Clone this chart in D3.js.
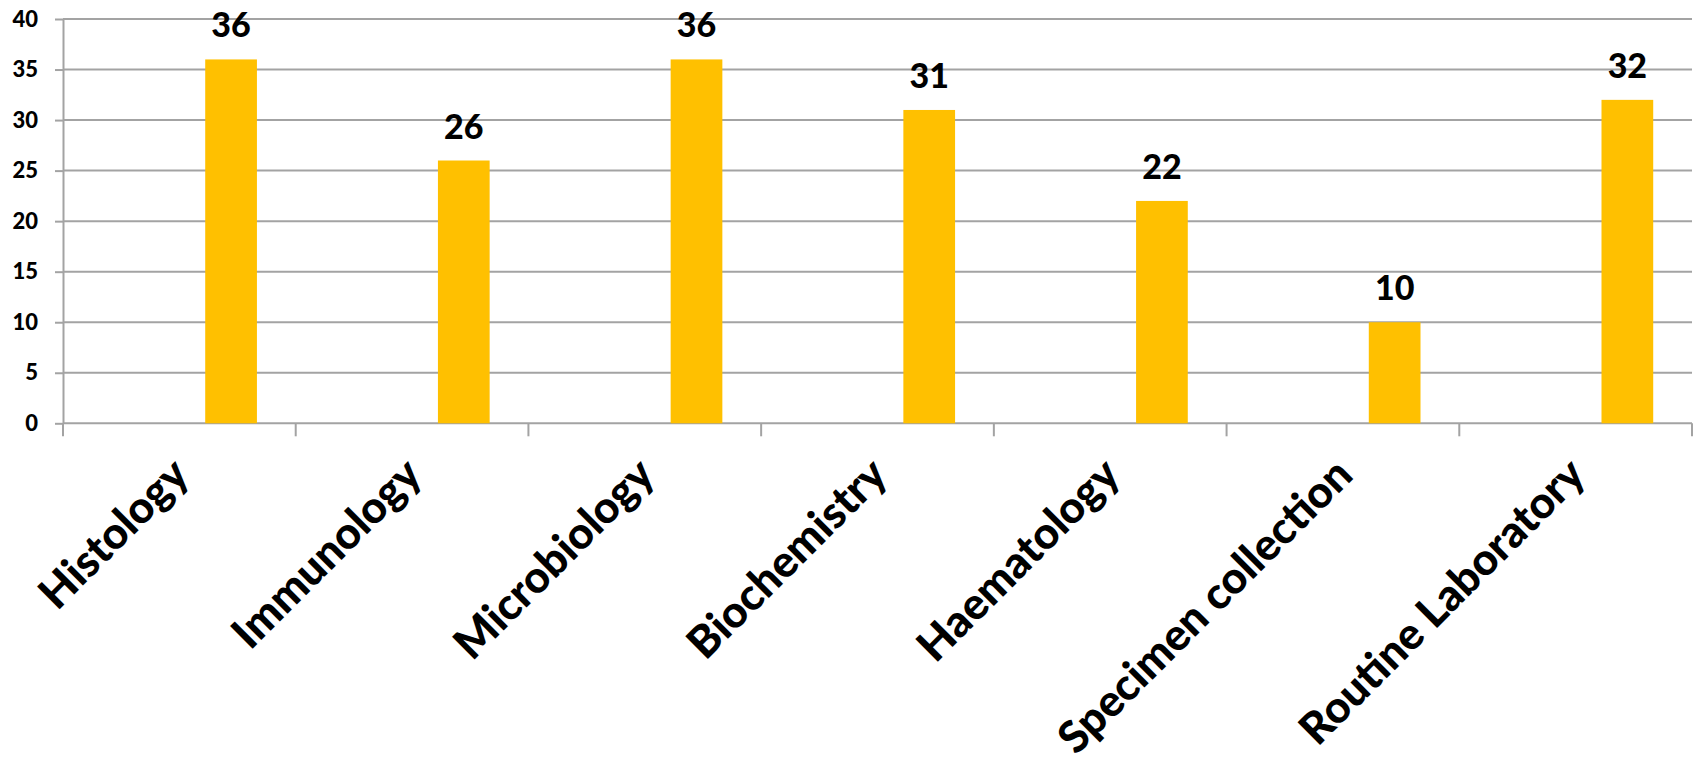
<!DOCTYPE html>
<html>
<head>
<meta charset="utf-8">
<script src="https://cdn.jsdelivr.net/npm/d3@7"></script>
<style>
  html, body { margin: 0; padding: 0; background: #fff; }
  svg { display: block; font-family: "Lato", "DejaVu Sans", sans-serif; font-weight: 900; }
</style>
</head>
<body>
<svg id="chart" width="1696" height="761"></svg>
<script>
// Laboratory sections and their counts
const categories = ["Histology", "Immunology", "Microbiology", "Biochemistry", "Haematology", "Specimen collection", "Routine Laboratory"];
const values = [36, 26, 36, 31, 22, 10, 32];
// Series slots per category; only the last slot carries data
const seriesSlots = ["s1", "s2", "s3"];
const activeSeries = "s3";
const yTicks = [0, 5, 10, 15, 20, 25, 30, 35, 40];

const width = 1696, height = 761;
const margin = { top: 19, right: 4, bottom: 337.7, left: 63 };
const innerW = width - margin.left - margin.right;
const innerH = height - margin.top - margin.bottom;

const svg = d3.select("#chart");
const g = svg.append("g").attr("transform", `translate(${margin.left},${margin.top})`);

const x = d3.scaleBand().domain(categories).range([0, innerW]).paddingInner(0).paddingOuter(0);
const xSub = d3.scaleBand().domain(seriesSlots).range([0, x.bandwidth()]).paddingInner(0).paddingOuter(0.75);
const y = d3.scaleLinear().domain([0, 40]).range([innerH, 0]);

const gridColor = "#a3a3a3";

// Horizontal gridlines
g.append("g")
  .selectAll("line")
  .data(yTicks)
  .join("line")
  .attr("x1", 0)
  .attr("x2", innerW)
  .attr("y1", d => y(d))
  .attr("y2", d => y(d))
  .attr("stroke", gridColor)
  .attr("stroke-width", 2);

// Y axis with outward ticks
const yAxis = g.append("g")
  .call(d3.axisLeft(y).tickValues(yTicks).tickSize(8).tickPadding(17).tickSizeOuter(0));
yAxis.select(".domain").attr("stroke", gridColor).attr("stroke-width", 2);
yAxis.selectAll(".tick line").attr("stroke", gridColor).attr("stroke-width", 2);
yAxis.selectAll(".tick text")
  .attr("fill", "#000")
  .style("font-size", "22px")
  .style("font-weight", 900)
  .style("font-family", "Lato, sans-serif");

// Extend the y axis line down to the category tick length
g.append("line")
  .attr("x1", 0).attr("x2", 0)
  .attr("y1", innerH).attr("y2", innerH + 13)
  .attr("stroke", gridColor).attr("stroke-width", 2);

// Category boundary ticks along the x axis
const boundaries = categories.map(c => x(c) + x.bandwidth());
g.append("g")
  .selectAll("line")
  .data(boundaries)
  .join("line")
  .attr("x1", d => d).attr("x2", d => d)
  .attr("y1", innerH).attr("y2", innerH + 13)
  .attr("stroke", gridColor).attr("stroke-width", 2);

// Bars
const data = categories.map((c, i) => ({ category: c, value: values[i] }));
g.append("g")
  .selectAll("rect")
  .data(data)
  .join("rect")
  .attr("x", d => x(d.category) + xSub(activeSeries))
  .attr("width", xSub.bandwidth())
  .attr("y", d => y(d.value))
  .attr("height", d => innerH - y(d.value))
  .attr("fill", "#ffc000");

// Value labels above bars
g.append("g")
  .selectAll("text")
  .data(data)
  .join("text")
  .attr("x", d => x(d.category) + xSub(activeSeries) + xSub.bandwidth() / 2)
  .attr("y", d => y(d.value) - 22)
  .attr("text-anchor", "middle")
  .attr("fill", "#000")
  .style("font-size", "34px")
  .style("font-weight", 900)
  .text(d => d.value);

// Rotated category labels
g.append("g")
  .selectAll("text")
  .data(categories)
  .join("text")
  .attr("transform", d => `translate(${x(d) + x.bandwidth() / 2 + 12},${innerH + 54}) rotate(-45)`)
  .attr("text-anchor", "end")
  .attr("fill", "#000")
  .style("font-size", "44px")
  .style("font-weight", 900)
  .text(d => d);
</script>
</body>
</html>
